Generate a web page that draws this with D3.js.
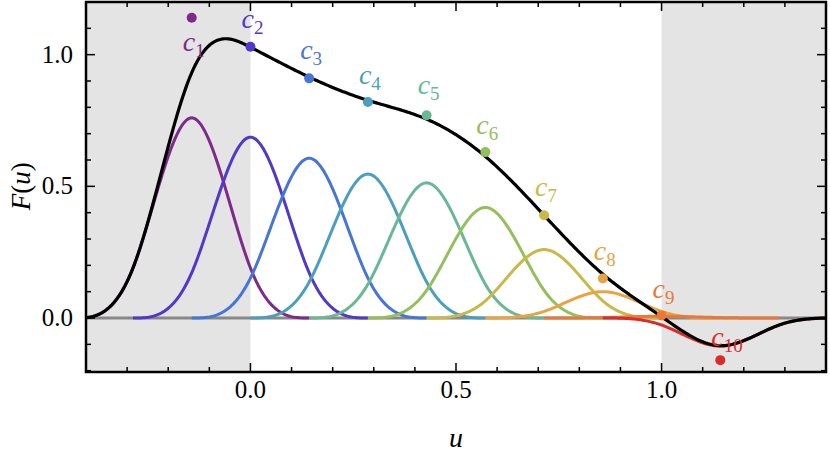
<!DOCTYPE html>
<html><head><meta charset="utf-8">
<script src="https://cdn.jsdelivr.net/npm/d3@7"></script>
<style>body{margin:0;background:#fff}</style>
</head><body><svg id="c" width="830" height="460" font-family="'Liberation Serif','DejaVu Serif','Times New Roman',serif"></svg>
<script>
// control values c1..c10 at knots (i-2)/7
const coeffs = [1.14, 1.03, 0.91, 0.82, 0.77, 0.63, 0.39, 0.15, 0.01, -0.16];
const colors = ['#7d2a8c','#5337c9','#4675d8','#4a9fbf','#68b895','#93c05c','#c9b948','#e8a441','#ea7836','#da2c2a'];
const labelDy = [25, -27, -27, -26, -29, -26, -27, -27, -25, -22];
const xTicks = [0, 0.5, 1];
const yTicks = [0, 0.5, 1];
const h = 1 / 7;

const W = 830, H = 460, m = {l: 86, r: 4, t: 2, b: 88};
const x = d3.scaleLinear().domain([-0.4, 1.4]).range([m.l, W - m.r]);
const y = d3.scaleLinear().domain([-0.205, 1.2]).range([H - m.b, m.t]);
const svg = d3.select('#c');

function bspl(t) { // cubic B-spline, unit knots, centered
  t = Math.abs(t);
  if (t < 1) return 2/3 - t*t + t*t*t/2;
  if (t < 2) return Math.pow(2 - t, 3) / 6;
  return 0;
}
const center = i => (i - 1) / 7;
const F = u => d3.sum(coeffs, (c, i) => c * bspl((u - center(i)) / h));

svg.append('defs').append('clipPath').attr('id', 'clip').append('rect')
  .attr('x', m.l).attr('y', m.t).attr('width', W - m.l - m.r).attr('height', H - m.t - m.b);
const g = svg.append('g').attr('clip-path', 'url(#clip)');
g.append('rect').attr('x', x(-0.4)).attr('y', m.t).attr('width', x(0) - x(-0.4)).attr('height', H - m.t - m.b).attr('fill', '#e4e4e4');
g.append('rect').attr('x', x(1)).attr('y', m.t).attr('width', x(1.4) - x(1)).attr('height', H - m.t - m.b).attr('fill', '#e4e4e4');
g.append('line').attr('x1', x(-0.4)).attr('x2', x(1.4)).attr('y1', y(0)).attr('y2', y(0)).attr('stroke', '#888').attr('stroke-width', 3);

const line = d3.line().x(d => x(d[0])).y(d => y(d[1]));
coeffs.forEach((c, i) => {
  const c0 = center(i);
  const pts = d3.range(0, 201).map(k => { const u = c0 - 2*h + k * 4*h/200; return [u, c * bspl((u - c0) / h)]; });
  g.append('path').attr('d', line(pts)).attr('fill', 'none').attr('stroke', colors[i]).attr('stroke-width', 3);
});
const fp = d3.range(0, 401).map(k => { const u = -0.4 + k * 1.8 / 400; return [u, F(u)]; });
g.append('path').attr('d', line(fp)).attr('fill', 'none').attr('stroke', '#000').attr('stroke-width', 3.2);

coeffs.forEach((c, i) => {
  const px = x(center(i)), py = y(c);
  svg.append('circle').attr('cx', px).attr('cy', py).attr('r', 5).attr('fill', colors[i]);
  const t = svg.append('text').attr('x', px - 9).attr('y', py + labelDy[i] + 8).attr('fill', colors[i])
    .attr('font-size', 28).attr('font-style', 'italic').text('c');
  t.append('tspan').attr('font-size', 19).attr('font-style', 'normal').attr('dy', 6).text(i + 1);
});

// frame + ticks
const fr = svg.append('g');
fr.append('rect').attr('x', m.l).attr('y', m.t).attr('width', W - m.l - m.r).attr('height', H - m.t - m.b)
  .attr('fill', 'none').attr('stroke', '#000').attr('stroke-width', 2.5);
const xMinor = d3.range(-4, 15).map(k => k / 10);
const yMinor = d3.range(-2, 13).map(k => k / 10);
xMinor.forEach(v => {
  const maj = xTicks.some(t => Math.abs(t - v) < 1e-9), L = maj ? 9 : 5;
  [[y.range()[0], -L], [y.range()[1], L]].forEach(([yy, d]) =>
    fr.append('line').attr('x1', x(v)).attr('x2', x(v)).attr('y1', yy).attr('y2', yy + d).attr('stroke', '#000').attr('stroke-width', 1.5));
});
yMinor.forEach(v => {
  const maj = yTicks.some(t => Math.abs(t - v) < 1e-9), L = maj ? 9 : 5;
  [[x.range()[0], L], [x.range()[1], -L]].forEach(([xx, d]) =>
    fr.append('line').attr('x1', xx).attr('x2', xx + d).attr('y1', y(v)).attr('y2', y(v)).attr('stroke', '#000').attr('stroke-width', 1.5));
});
xTicks.forEach(v => svg.append('text').attr('x', x(v)).attr('y', 398).attr('text-anchor', 'middle')
  .attr('font-size', 25).text(d3.format('.1f')(v)));
yTicks.forEach(v => svg.append('text').attr('x', 73).attr('y', y(v) + 8).attr('text-anchor', 'end')
  .attr('font-size', 25).text(d3.format('.1f')(v)));
svg.append('text').attr('x', x(0.5)).attr('y', 447).attr('text-anchor', 'middle').attr('font-size', 28).attr('font-style', 'italic').text('u');
const yl = svg.append('text').attr('transform', `translate(30,${y(0.5)}) rotate(-90)`).attr('text-anchor', 'middle').attr('font-size', 27);
yl.append('tspan').attr('font-style', 'italic').text('F');
yl.append('tspan').text('(');
yl.append('tspan').attr('font-style', 'italic').text('u');
yl.append('tspan').text(')');
</script></body></html>
